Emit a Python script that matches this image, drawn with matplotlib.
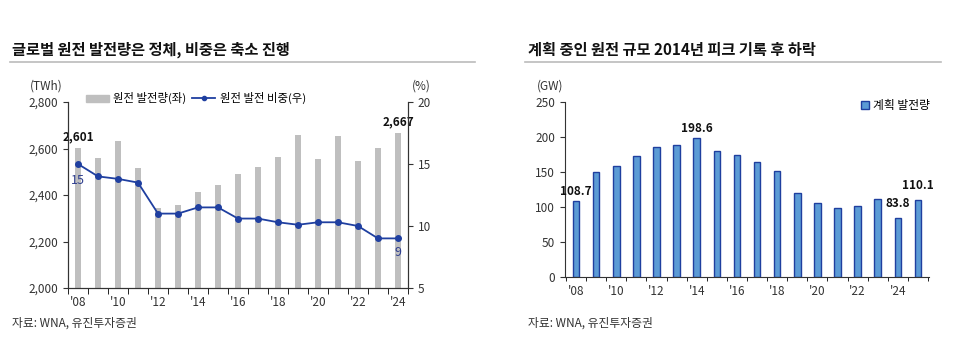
import matplotlib.pyplot as plt
from matplotlib.lines import Line2D
from matplotlib.patches import Patch
import numpy as np

plt.rcParams['font.family'] = ['Noto Sans CJK KR', 'DejaVu Sans']

# 왼쪽: 글로벌 원전 발전량 / 비중
years_l = list(range(2008, 2025))
gen_twh = [2601, 2560, 2631, 2518, 2346, 2356, 2411, 2441, 2491, 2520,
           2564, 2657, 2554, 2654, 2545, 2603, 2667]
share_pct = [15.0, 14.0, 13.8, 13.5, 11.0, 11.0, 11.5, 11.5, 10.6, 10.6,
             10.3, 10.1, 10.3, 10.3, 10.0, 9.0, 9.0]

# 오른쪽: 계획 발전량
years_r = list(range(2008, 2026))
planned_gw = [108.7, 150, 159, 173, 186, 188, 198.6, 180, 175, 165,
              152, 120, 106, 98, 102, 111, 83.8, 110.1]

bar_gray = '#BFBFBF'
line_blue = '#1F3FA0'
bar_blue = '#5B9BD5'
edge_blue = '#1F3F9F'
txt = '#333333'

fig = plt.figure(figsize=(9.68, 3.47), dpi=100)

# 제목 + 밑줄
fig.text(12/968, 1-50/347, '글로벌 원전 발전량은 정체, 비중은 축소 진행',
         fontsize=11, fontweight='bold', va='center', ha='left', color='#111111')
fig.text(528/968, 1-50/347, '계획 중인 원전 규모 2014년 피크 기록 후 하락',
         fontsize=11, fontweight='bold', va='center', ha='left', color='#111111')
fig.add_artist(Line2D([10/968, 475/968], [1-62/347]*2, color='#BBBBBB', lw=1.2))
fig.add_artist(Line2D([525/968, 941/968], [1-62/347]*2, color='#BBBBBB', lw=1.2))

# ---- 왼쪽 차트 ----
ax = fig.add_axes([68/968, 1-288/347, 340/968, 186/347])
x = np.arange(len(years_l))
ax.bar(x, gen_twh, width=0.3, color=bar_gray, zorder=1)
ax.set_ylim(2000, 2800)
ax.set_yticks([2000, 2200, 2400, 2600, 2800])
ax.set_yticklabels(['2,000', '2,200', '2,400', '2,600', '2,800'])
ax.set_xlim(-0.5, len(years_l) - 0.5)
ax.set_xticks(x[::2])
ax.set_xticklabels(["'%02d" % (y % 100) for y in years_l[::2]])
ax.set_xticks(np.arange(-0.5, len(years_l), 1), minor=True)
ax.tick_params(axis='x', which='major', length=0, pad=6)
ax.tick_params(axis='x', which='minor', length=4)
ax.tick_params(labelsize=8.5, colors=txt)
ax.spines['top'].set_visible(False)
for s in ax.spines.values():
    s.set_color('#333333')

ax2 = ax.twinx()
ax2.plot(x, share_pct, color=line_blue, lw=1.3, marker='o', ms=4, zorder=3)
ax2.set_ylim(5, 20)
ax2.set_yticks([5, 10, 15, 20])
ax2.tick_params(labelsize=8.5, colors=txt)
ax2.spines['top'].set_visible(False)
for s in ax2.spines.values():
    s.set_color('#333333')

ax.text(x[0], gen_twh[0] + 20, '2,601', ha='center', va='bottom',
        fontsize=8.5, fontweight='bold', color='#111111')
ax.text(x[-1], gen_twh[-1] + 20, '2,667', ha='center', va='bottom',
        fontsize=8.5, fontweight='bold', color='#111111')
ax2.text(x[0], share_pct[0] - 0.8, '15', ha='center', va='top',
         fontsize=9, color='#2F3F8F')
ax2.text(x[-1], share_pct[-1] - 0.6, '9', ha='center', va='top',
         fontsize=9, color='#2F3F8F')

fig.text(30/968, 1-86/347, '(TWh)', fontsize=8.5, color=txt, va='center')
fig.text(412/968, 1-86/347, '(%)', fontsize=8.5, color=txt, va='center')

handles = [Patch(color=bar_gray),
           Line2D([], [], color=line_blue, lw=1.3, marker='o', ms=3)]
ax.legend(handles, ['원전 발전량(좌)', '원전 발전 비중(우)'], ncol=2,
          loc='center left', bbox_to_anchor=(0.04, 1.02), frameon=False,
          fontsize=8.2, handlelength=2.0, handleheight=0.6, columnspacing=0.5,
          handletextpad=0.4, borderaxespad=0)

# ---- 오른쪽 차트 ----
bx = fig.add_axes([565/968, 1-277/347, 364/968, 175/347])
xr = np.arange(len(years_r))
bx.bar(xr, planned_gw, width=0.33, color=bar_blue, edgecolor=edge_blue, lw=1.0)
bx.set_ylim(0, 250)
bx.set_yticks(range(0, 251, 50))
bx.set_xlim(-0.55, len(years_r) - 0.45)
bx.set_xticks(xr[:-1:2])
bx.set_xticklabels(["'%02d" % (y % 100) for y in years_r[:-1:2]])
bx.set_xticks(np.arange(-0.5, len(years_r), 1), minor=True)
bx.tick_params(axis='x', which='major', length=0, pad=6)
bx.tick_params(axis='x', which='minor', length=3)
bx.tick_params(labelsize=8.5, colors=txt)
bx.spines['top'].set_visible(False)
bx.spines['right'].set_visible(False)
for s in bx.spines.values():
    s.set_color('#333333')

label_dy = {0: 4, 6: 4, 16: 12, 17: 12}
for i, dy in label_dy.items():
    bx.text(xr[i], planned_gw[i] + dy, '%.1f' % planned_gw[i], ha='center',
            va='bottom', fontsize=8.5, fontweight='bold', color='#111111')

fig.text(537/968, 1-86/347, '(GW)', fontsize=8.5, color=txt, va='center')
bx.legend([Patch(facecolor=bar_blue, edgecolor=edge_blue)], ['계획 발전량'],
          loc='center left', bbox_to_anchor=(0.80, 0.98), frameon=False,
          fontsize=8.5, handlelength=0.7, handleheight=0.7, handletextpad=0.3,
          borderaxespad=0)

# 출처
fig.text(12/968, 1-323/347, '자료: WNA, 유진투자증권', fontsize=8.5, color=txt, va='center')
fig.text(528/968, 1-323/347, '자료: WNA, 유진투자증권', fontsize=8.5, color=txt, va='center')

fig.savefig('out.png', dpi=100)
